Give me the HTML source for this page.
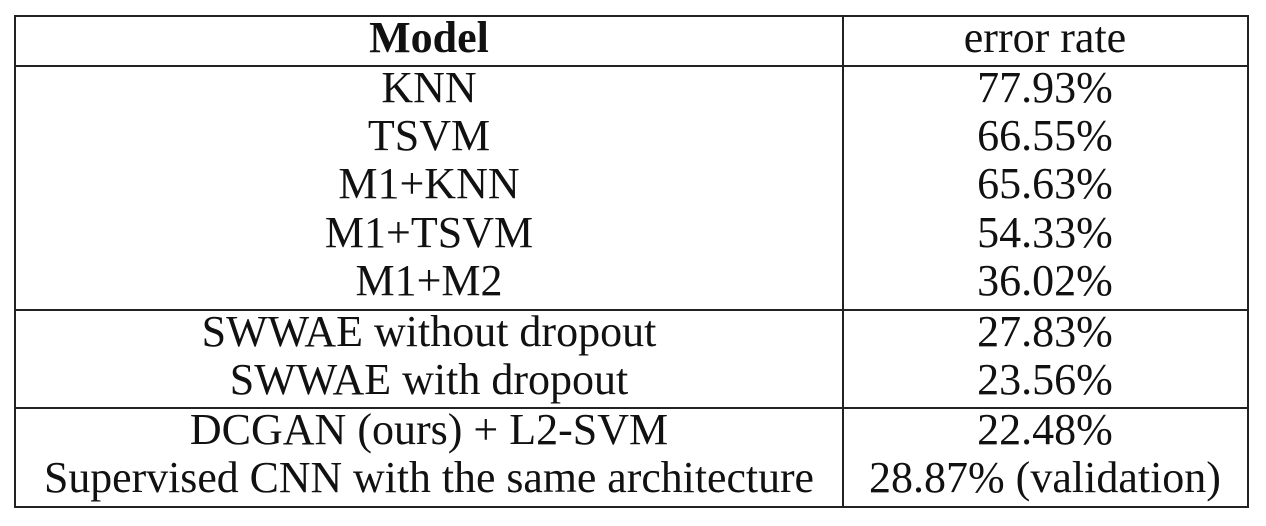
<!DOCTYPE html>
<html><head><meta charset="utf-8"><style>
html,body{margin:0;padding:0;background:#fff;}
svg{display:block;}
text{font-family:"Liberation Serif","Times New Roman",serif;font-size:44px;fill:#111;text-anchor:middle;}
</style></head><body>
<svg width="1266" height="526" viewBox="0 0 1266 526" xmlns="http://www.w3.org/2000/svg">
<g stroke="#222" stroke-width="2" fill="none">
<rect x="15" y="16" width="1233" height="491"/>
<line x1="843" y1="16" x2="843" y2="507"/>
<line x1="15" y1="66" x2="1248" y2="66"/>
<line x1="15" y1="310" x2="1248" y2="310"/>
<line x1="15" y1="408" x2="1248" y2="408"/>
</g>
<text x="429" y="52" font-weight="bold">Model</text>
<text x="1045" y="52">error rate</text>
<text x="429" y="102">KNN</text><text x="1045" y="102">77.93%</text>
<text x="429" y="150">TSVM</text><text x="1045" y="150">66.55%</text>
<text x="429" y="198">M1+KNN</text><text x="1045" y="198">65.63%</text>
<text x="429" y="247">M1+TSVM</text><text x="1045" y="247">54.33%</text>
<text x="429" y="295">M1+M2</text><text x="1045" y="295">36.02%</text>
<text x="429" y="346">SWWAE without dropout</text><text x="1045" y="346">27.83%</text>
<text x="429" y="394">SWWAE with dropout</text><text x="1045" y="394">23.56%</text>
<text x="429" y="444">DCGAN (ours) + L2-SVM</text><text x="1045" y="444">22.48%</text>
<text x="429" y="492" textLength="770" lengthAdjust="spacingAndGlyphs">Supervised CNN with the same architecture</text><text x="1045" y="492">28.87% (validation)</text>
</svg>
</body></html>
